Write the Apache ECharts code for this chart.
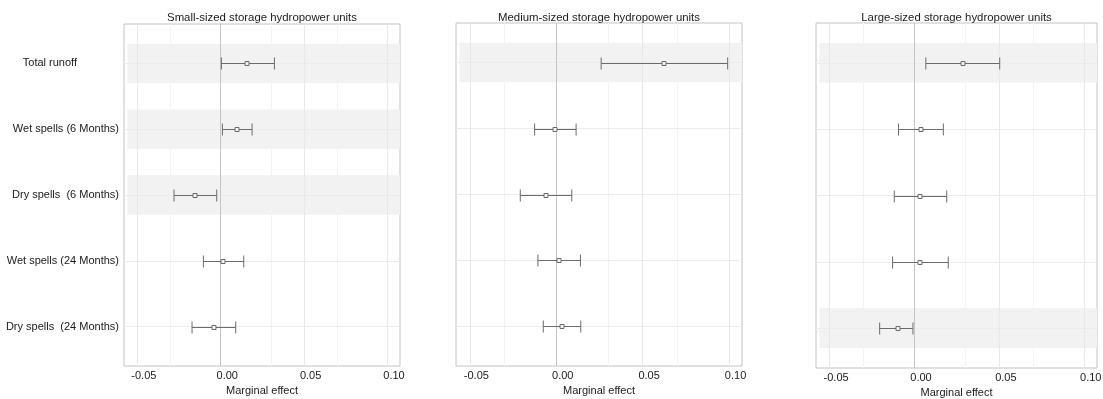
<!DOCTYPE html>
<html>
<head>
<meta charset="utf-8">
<script src="https://cdn.jsdelivr.net/npm/echarts@6/dist/echarts.min.js"></script>
<style>
  html, body { margin: 0; padding: 0; background: #fff; }
  #chart { width: 1103px; height: 399px; }
</style>
</head>
<body>
<div id="chart"></div>
<script>
// Predictors, top to bottom
const categories = [
  'Total runoff',
  'Wet spells (6 Months)',
  'Dry spells  (6 Months)',
  'Wet spells (24 Months)',
  'Dry spells  (24 Months)'
];

const panelTitles = [
  'Small-sized storage hydropower units',
  'Medium-sized storage hydropower units',
  'Large-sized storage hydropower units'
];

// Marginal effects with lower / upper confidence bounds
const smallEst = [0.0160, 0.0095, -0.0152, 0.0016, -0.0043];
const smallLo  = [0.0004, 0.0010, -0.0280, -0.0104, -0.0172];
const smallHi  = [0.0322, 0.0188, -0.0024, 0.0138, 0.0090];

const mediumEst = [0.0625, -0.0006, -0.0058, 0.0015, 0.0034];
const mediumLo  = [0.0260, -0.0125, -0.0208, -0.0106, -0.0075];
const mediumHi  = [0.0992, 0.0115, 0.0090, 0.0140, 0.0142];

const largeEst = [0.0285, 0.0037, 0.0035, 0.0035, -0.0097];
const largeLo  = [0.0067, -0.0094, -0.0119, -0.0129, -0.0205];
const largeHi  = [0.0502, 0.0170, 0.0190, 0.0199, -0.0009];

const xTicks = [-0.05, 0, 0.05, 0.10];
const xMinorTicks = [-0.025, 0.025, 0.075];

const panels = [
  { est: smallEst, lo: smallLo, hi: smallHi },
  { est: mediumEst, lo: mediumLo, hi: mediumHi },
  { est: largeEst, lo: largeLo, hi: largeHi }
];

const X_MIN = -0.058, X_MAX = 0.1075;
const BAND_START = -0.056;
const FONT = 'Liberation Sans, Arial, sans-serif';
const TEXT = '#1a1a1a';

const grids = [
  { left: 124, width: 276, top: 24, height: 342 },
  { left: 456, width: 286, top: 23, height: 343 },
  { left: 816, width: 281, top: 23, height: 345 }
];

const yPos = categories.map((_, i) => i + 1);

const option = {
  animation: false,
  backgroundColor: '#fff',
  title: [],
  grid: [],
  xAxis: [],
  yAxis: [],
  series: []
};

grids.forEach((g, p) => {
  option.title.push({
    text: panelTitles[p],
    left: g.left + g.width / 2,
    top: 12,
    textAlign: 'center',
    padding: 0,
    textStyle: { fontFamily: FONT, fontSize: 11.4, fontWeight: 'normal', color: TEXT }
  });

  option.grid.push({
    left: g.left, top: g.top, width: g.width, height: g.height,
    outerBoundsMode: 'none', containLabel: false,
    show: true, borderColor: '#c2c2c2', borderWidth: 1, backgroundColor: 'transparent'
  });

  option.xAxis.push({
    type: 'value', gridIndex: p, min: X_MIN, max: X_MAX,
    name: 'Marginal effect', nameLocation: 'middle', nameGap: 12,
    nameTextStyle: { fontFamily: FONT, fontSize: 11, color: TEXT },
    axisLine: { show: false }, axisTick: { show: false }, splitLine: { show: false },
    axisLabel: {
      customValues: xTicks, margin: 4, padding: [0, 0, 0, 13],
      fontFamily: FONT, fontSize: 11, color: TEXT,
      formatter: v => v.toFixed(2)
    }
  });

  option.yAxis.push({
    type: 'value', gridIndex: p, min: 0.4, max: 5.6, inverse: true,
    axisLine: { show: false },
    splitLine: { show: false },
    axisTick: { show: true, customValues: yPos, length: 3, lineStyle: { color: '#555' } },
    axisLabel: {
      show: p === 0, customValues: yPos, margin: 5,
      fontFamily: FONT, fontSize: 11, color: TEXT,
      formatter: v => {
        const name = categories[Math.round(v) - 1] || '';
        return Math.round(v) === 1 ? '{pad|' + name + '}' : name;
      },
      rich: { pad: { fontFamily: FONT, fontSize: 11, color: TEXT, padding: [0, 42, 0, 0] } }
    }
  });

  const d = panels[p];

  // shaded rows where the interval does not include zero
  const bands = [];
  categories.forEach((_, i) => {
    if (d.lo[i] > 0 || d.hi[i] < 0) {
      bands.push([{ xAxis: BAND_START, yAxis: yPos[i] - 0.3 }, { xAxis: X_MAX, yAxis: yPos[i] + 0.3 }]);
    }
  });
  option.series.push({
    type: 'scatter', xAxisIndex: p, yAxisIndex: p, data: [], z: 1, silent: true,
    markArea: { silent: true, z: 1, itemStyle: { color: '#f2f2f2' }, data: bands }
  });

  // gridlines
  const lines = [];
  xMinorTicks.forEach(v => lines.push({ xAxis: v, lineStyle: { color: '#f3f3f3', width: 1, type: 'solid' } }));
  yPos.forEach(v => lines.push({ yAxis: v, lineStyle: { color: '#ececec', width: 1, type: 'solid' } }));
  xTicks.forEach(v => lines.push({ xAxis: v, lineStyle: { color: v === 0 ? '#c4c4c4' : '#e8e8e8', width: 1, type: 'solid' } }));
  option.series.push({
    type: 'scatter', xAxisIndex: p, yAxisIndex: p, data: [], z: 2, silent: true,
    markLine: { silent: true, z: 2, symbol: ['none', 'none'], label: { show: false }, animation: false, data: lines }
  });

  // error bars with point estimates
  option.series.push({
    type: 'custom', xAxisIndex: p, yAxisIndex: p, z: 10, silent: true,
    encode: { x: [0, 1, 2], y: 3 },
    data: categories.map((_, i) => [d.lo[i], d.hi[i], d.est[i], yPos[i]]),
    renderItem: (params, api) => {
      const a = api.coord([api.value(0), api.value(3)]);
      const b = api.coord([api.value(1), api.value(3)]);
      const m = api.coord([api.value(2), api.value(3)]);
      const y = Math.round(a[1]) + 0.5;
      const stroke = { stroke: '#6b6b6b', lineWidth: 1 };
      const cap = 6;
      return {
        type: 'group',
        children: [
          { type: 'line', shape: { x1: a[0], y1: y, x2: b[0], y2: y }, style: stroke },
          { type: 'line', shape: { x1: a[0], y1: y - cap, x2: a[0], y2: y + cap }, style: stroke },
          { type: 'line', shape: { x1: b[0], y1: y - cap, x2: b[0], y2: y + cap }, style: stroke },
          { type: 'rect', shape: { x: Math.round(m[0]) - 2, y: y - 2, width: 4, height: 4 },
            style: { fill: '#f4f4f4', stroke: '#6b6b6b', lineWidth: 1 } }
        ]
      };
    }
  });
});

const chart = echarts.init(document.getElementById('chart'), null, { renderer: 'canvas' });
chart.setOption(option);
</script>
</body>
</html>
